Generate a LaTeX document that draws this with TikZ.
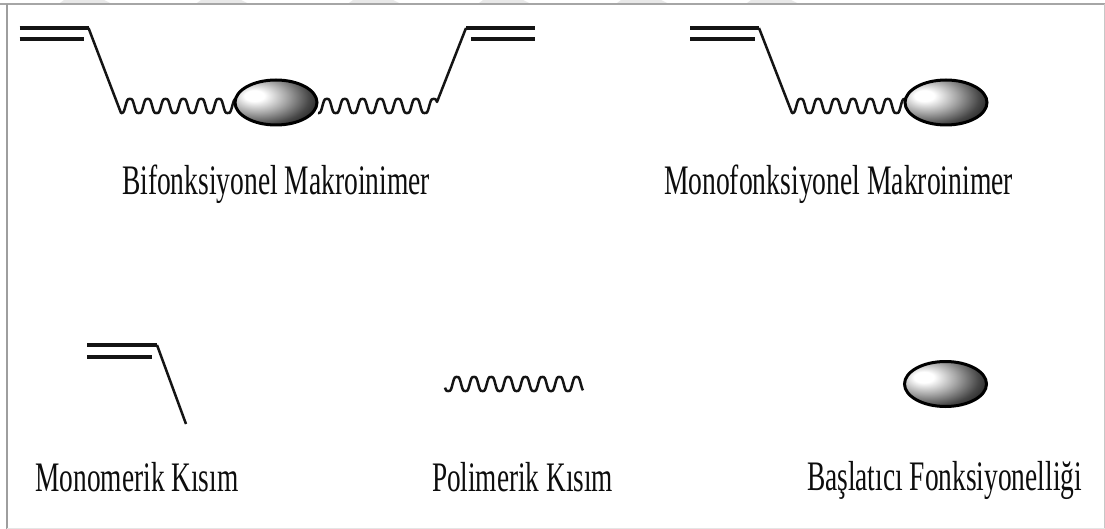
\documentclass[tikz,border=0pt]{standalone}
\usepackage{fontspec}
\usepackage{graphicx}
\setmainfont{Liberation Serif}
\pgfdeclareradialshading{initiatorball}{\pgfpoint{-14bp}{8bp}}{%
  color(0bp)=(white);
  color(6bp)=(white);
  color(18bp)=(black!35);
  color(30bp)=(black!72);
  color(40bp)=(black!92);
  color(50bp)=(black);
  color(100bp)=(black)}
\tikzset{
  bond/.style={line width=3.2pt,black!92},
  tether/.style={line width=2.5pt,black!92,line join=round},
  blob/.style={line width=3pt,draw=black,shading=initiatorball},
  caption/.style={anchor=base west,inner sep=0pt,outer sep=0pt,font=\fontsize{42}{42}\selectfont,text=black!95},
  chain/.style={smooth,samples=160,variable=\t,domain=#1},
  smudge/.style={fill=black!9,draw=none},
}
\begin{document}
\begin{tikzpicture}[x=1pt,y=-1pt,
  declare function={wave(\xx,\org,\per,\mid,\amp)=\mid+\amp*(cos(360/\per*(\xx-\org))-0.12*cos(1080/\per*(\xx-\org)))/0.88;}]
\useasboundingbox (0,0) rectangle (1105,529);
\fill[white] (0,0) rectangle (1105,529);
% marks along the top edge of the sheet
\foreach \sx in {60,197,349,479,617,747}
  \fill[smudge] (\sx,3) -- (\sx+4,0) -- (\sx+44,0) -- (\sx+50,3) -- cycle;
% outer frame
\draw[line width=2pt,black!35] (0,4) -- (1105,4);
\draw[line width=1.3pt,black!38] (7,529) -- (7,4);
\draw[line width=0.8pt,black!22] (1104.5,4) -- (1104.5,529);
\draw[line width=0.8pt,black!10] (7,528) -- (1105,528);

% bifunctional macroinimer
\coordinate (bl) at (88.5,28);
\coordinate (blw) at (121,113);
\coordinate (br) at (466,28);
\draw[bond] (19.5,28) -- (bl);
\draw[bond] (19.5,39) -- (84,39);
\draw[tether] (bl) -- (blw) -- plot[chain=121:236] (\t,{wave(\t,121,17.8,106,7)});
\draw[tether] plot[chain=318:437] (\t,{wave(\t,318,17.8,106,7)}) -- (br);
\draw[bond] (br) -- (535,28);
\draw[bond] (471,39) -- (535,39);
\path[blob] (276,102.5) ellipse [x radius=41,y radius=22.5];
\node[caption] (bif) at (122,195) {\resizebox{308pt}{\height}{Bifonksiyonel Makroinimer}};

% monofunctional macroinimer
\coordinate (ml) at (759,28);
\coordinate (mlw) at (792,113);
\draw[bond] (690,28) -- (ml);
\draw[bond] (690,39) -- (755,39);
\draw[tether] (ml) -- (mlw) -- plot[chain=792:906] (\t,{wave(\t,792,17.4,106,7)});
\path[blob] (946,102.5) ellipse [x radius=41,y radius=22.5];
\node[caption] (mono) at (664,195) {\resizebox{349pt}{\height}{Monofonksiyonel Makroinimer}};

% monomer part
\coordinate (lg) at (157,345);
\coordinate (lgend) at (186,424);
\draw[bond] (87,345) -- (lg);
\draw[bond] (87,357) -- (152,357);
\draw[tether] (lg) -- (lgend);
\node[caption] (kmon) at (35.5,491) {\resizebox{203pt}{\height}{Monomerik Kısım}};

% polymer part
\draw[tether] plot[chain=445:583] (\t,{wave(\t,448.3,17.1,384,7)});
\node[caption] (kpol) at (432,491) {\resizebox{181pt}{\height}{Polimerik Kısım}};

% initiator part
\path[blob] (945.5,384) ellipse [x radius=41,y radius=22.5];
\node[caption] (kini) at (807,490) {\resizebox{275pt}{\height}{Başlatıcı Fonksiyonelliği}};
\end{tikzpicture}
\end{document}
